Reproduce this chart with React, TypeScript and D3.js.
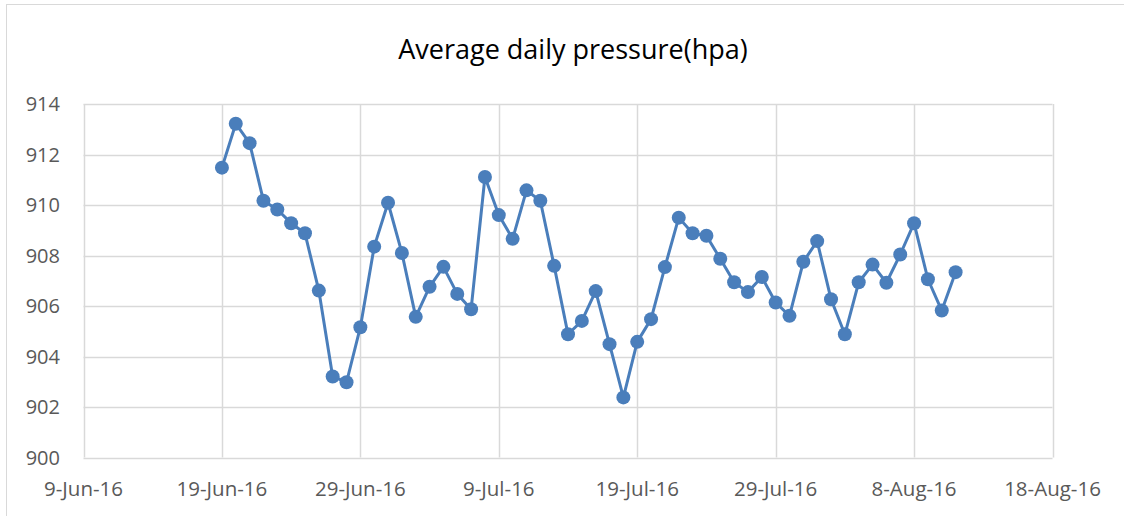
import { useRef, useEffect } from 'react';
import * as d3 from 'd3';

// daily average pressure, one value per day starting 19-Jun-2016
const startDate = '2016-06-19';
const pressure = [
  911.48, 913.22, 912.45, 910.17, 909.82, 909.28, 908.88, 906.61, 903.21, 902.98,
  905.16, 908.35, 910.09, 908.1, 905.57, 906.76, 907.55, 906.48, 905.87, 911.11,
  909.6, 908.66, 910.58, 910.17, 907.59, 904.88, 905.41, 906.59, 904.49, 902.38,
  904.58, 905.48, 907.54, 909.5, 908.88, 908.78, 907.87, 906.94, 906.55, 907.15,
  906.14, 905.61, 907.75, 908.57, 906.27, 904.88, 906.94, 907.64, 906.92, 908.04,
  909.28, 907.06, 905.82, 907.34
];

const xTicks = [
  '2016-06-09', '2016-06-19', '2016-06-29', '2016-07-09',
  '2016-07-19', '2016-07-29', '2016-08-08', '2016-08-18'
];
const yTicks = [900, 902, 904, 906, 908, 910, 912, 914];

const title = 'Average daily pressure(hpa)';

export default function App() {
  const ref = useRef<SVGSVGElement>(null);

  useEffect(() => {
    if (!ref.current) return;
    const width = 1124;
    const height = 516;

    const svg = d3.select(ref.current)
      .attr('width', width)
      .attr('height', height);
    svg.selectAll('*').remove();

    const parse = d3.timeParse('%Y-%m-%d');
    const start = parse(startDate) as Date;
    const data = pressure.map((v, i) => ({ date: d3.timeDay.offset(start, i), value: v }));
    const tickDates = xTicks.map(t => parse(t) as Date);

    const marginLeft = 83.5;
    const marginRight = 1052.5;
    const marginTop = 104;
    const marginBottom = 457.5;

    const x = d3.scaleTime()
      .domain([tickDates[0], tickDates[tickDates.length - 1]])
      .range([marginLeft, marginRight]);

    const y = d3.scaleLinear()
      .domain([900, 914])
      .range([marginBottom, marginTop]);

    const font = "'Open Sans', 'Noto Sans', sans-serif";

    // chart border
    svg.append('rect')
      .attr('x', 6.5)
      .attr('y', 4.5)
      .attr('width', width + 10)
      .attr('height', height + 10)
      .attr('fill', '#fff')
      .attr('stroke', '#d9d9d9')
      .attr('stroke-width', 1);

    // gridlines
    svg.append('g')
      .selectAll('line')
      .data(yTicks)
      .join('line')
      .attr('x1', marginLeft)
      .attr('x2', marginRight)
      .attr('y1', d => Math.round(y(d)) + 0.5)
      .attr('y2', d => Math.round(y(d)) + 0.5)
      .attr('stroke', '#d9d9d9')
      .attr('stroke-width', 1.5);

    svg.append('g')
      .selectAll('line')
      .data(tickDates)
      .join('line')
      .attr('x1', d => Math.round(x(d)) + 0.5)
      .attr('x2', d => Math.round(x(d)) + 0.5)
      .attr('y1', marginTop)
      .attr('y2', marginBottom)
      .attr('stroke', '#d9d9d9')
      .attr('stroke-width', 1.5);

    // y labels
    svg.append('g')
      .selectAll('text')
      .data(yTicks)
      .join('text')
      .attr('x', 60)
      .attr('y', d => y(d))
      .attr('dy', '0.36em')
      .attr('text-anchor', 'end')
      .attr('font-family', font)
      .attr('font-size', 20)
      .attr('fill', '#595959')
      .text(d => d);

    // x labels
    const fmt = d3.timeFormat('%-d-%b-%y');
    svg.append('g')
      .selectAll('text')
      .data(tickDates)
      .join('text')
      .attr('x', d => x(d))
      .attr('y', 496)
      .attr('text-anchor', 'middle')
      .attr('font-family', font)
      .attr('font-size', 20.5)
      .attr('fill', '#595959')
      .text(d => fmt(d));

    // title
    svg.append('text')
      .attr('x', 573)
      .attr('y', 59)
      .attr('text-anchor', 'middle')
      .attr('font-family', font)
      .attr('font-size', 27)
      .attr('fill', '#000')
      .text(title);

    const line = d3.line<{ date: Date; value: number }>()
      .x(d => x(d.date))
      .y(d => y(d.value));

    svg.append('path')
      .datum(data)
      .attr('fill', 'none')
      .attr('stroke', '#4a7ebb')
      .attr('stroke-width', 3)
      .attr('stroke-linejoin', 'round')
      .attr('d', line);

    svg.append('g')
      .selectAll('circle')
      .data(data)
      .join('circle')
      .attr('cx', d => x(d.date))
      .attr('cy', d => y(d.value))
      .attr('r', 7)
      .attr('fill', '#4a7ebb');
  }, []);

  return <svg ref={ref} style={{ position: 'absolute', left: 0, top: 0, display: 'block' }}></svg>;
}
